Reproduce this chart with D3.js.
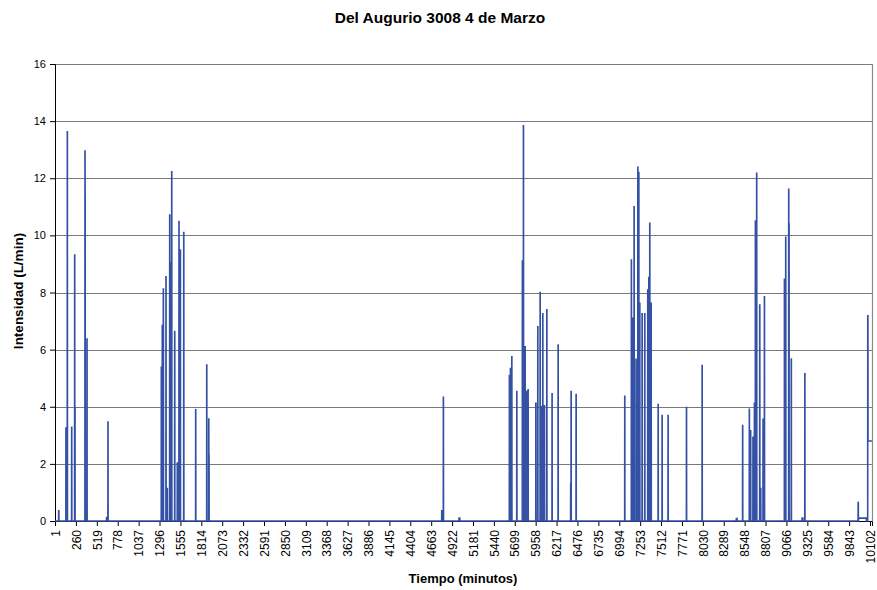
<!DOCTYPE html>
<html>
<head>
<meta charset="utf-8">
<script src="https://cdn.jsdelivr.net/npm/d3@7"></script>
<style>
  html, body { margin: 0; padding: 0; background: #fff; }
  svg { display: block; font-family: "Liberation Sans", Arial, sans-serif; }
</style>
</head>
<body>
<svg id="chart" width="877" height="590"></svg>
<script>
// Minute-by-minute flow record; minutes not listed in the events read 0 L/min.
const totalMinutes = 10126;

// Flow events: first minute, intensity (L/min), duration (minutes)
const eventMinute = [
  46, 136, 153, 207, 244, 248, 372, 374, 397, 640, 657,
  1318, 1330, 1343, 1376, 1392, 1422, 1440, 1447, 1484, 1516, 1537, 1554, 1596,
  1744, 1881, 1906, 1909,
  4794, 4814, 5008,
  5632, 5645, 5662, 5724, 5793, 5806, 5827, 5832, 5848, 5864,
  5960, 5984, 6013, 6025, 6046, 6066, 6096, 6161, 6236, 6392, 6397, 6459,
  7062, 7144, 7157, 7178, 7202, 7224, 7236, 7248, 7277, 7310, 7347, 7360, 7372, 7389,
  7476, 7525, 7599, 7827, 8021,
  8445, 8523, 8606, 8622, 8651, 8669, 8681, 8697, 8735, 8747, 8776, 8793,
  9041, 9057, 9094, 9098, 9126, 9260, 9294,
  9955, 9960, 10074, 10077
];
const eventValue = [
  0.36, 3.25, 13.63, 3.28, 9.31, 3.96, 12.95, 11.3, 6.37, 0.12, 3.46,
  5.38, 6.84, 8.12, 8.55, 1.14, 10.71, 9.03, 12.23, 6.63, 2.03, 10.48, 9.49, 10.1,
  3.89, 5.46, 3.57, 2.3,
  0.36, 4.33, 0.1,
  5.09, 5.34, 5.75, 4.53, 9.1, 13.84, 6.1, 2.87, 4.53, 4.59,
  4.12, 6.8, 8.0, 4.0, 7.25, 4.03, 7.39, 4.45, 6.16, 1.3, 4.53, 4.43,
  4.37, 9.14, 7.1, 11.0, 5.66, 12.38, 12.2, 7.62, 7.25, 7.25, 8.09, 8.52, 10.42, 7.62,
  4.08, 3.69, 3.69, 3.97, 5.44,
  0.09, 3.34, 3.91, 3.16, 2.93, 4.12, 10.5, 12.17, 7.56, 1.14, 3.56, 7.85,
  8.46, 9.93, 11.61, 10.4, 5.67, 0.1, 5.15,
  0.65, 0.1, 7.18, 2.8
];
const eventLength = [
  3, 2, 2, 2, 2, 2, 2, 2, 2, 15, 2,
  2, 2, 2, 2, 2, 2, 2, 2, 2, 2, 2, 2, 2,
  2, 2, 2, 2,
  3, 2, 10,
  2, 2, 2, 2, 2, 2, 2, 2, 2, 2,
  2, 2, 2, 2, 2, 2, 2, 2, 2, 4, 2, 2,
  2, 2, 2, 2, 2, 2, 2, 2, 2, 2, 2, 2, 2, 2,
  2, 2, 2, 2, 2,
  10, 2, 2, 2, 2, 2, 2, 2, 2, 2, 2, 2,
  2, 2, 2, 2, 2, 10, 2,
  3, 97, 3, 50
];

const yTicks = [0, 2, 4, 6, 8, 10, 12, 14, 16];
const xTickLabels = [
  "1", "260", "519", "778", "1037", "1296", "1555", "1814", "2073", "2332",
  "2591", "2850", "3109", "3368", "3627", "3886", "4145", "4404", "4663", "4922",
  "5181", "5440", "5699", "5958", "6217", "6476", "6735", "6994", "7253", "7512",
  "7771", "8030", "8289", "8548", "8807", "9066", "9325", "9584", "9843", "10102"
];

// Expand the events into one reading per minute
const readings = new Array(totalMinutes).fill(0);
eventMinute.forEach((m, i) => {
  for (let k = 0; k < eventLength[i]; k++) {
    const idx = m - 1 + k;
    if (idx >= 0 && idx < totalMinutes) readings[idx] = eventValue[i];
  }
});
const series = readings.map((v, i) => ({ minute: i + 1, value: v }));

const svg = d3.select("#chart");
const plot = { left: 55, right: 872, top: 64, bottom: 521 };

const x = d3.scaleLinear().domain([0.5, totalMinutes + 0.5]).range([plot.left, plot.right]);
const y = d3.scaleLinear().domain([0, 16]).range([plot.bottom, plot.top]);

svg.append("defs").append("clipPath").attr("id", "plot-clip")
  .append("rect")
  .attr("x", plot.left).attr("y", plot.top - 2)
  .attr("width", plot.right - plot.left).attr("height", plot.bottom - plot.top + 4);

// Horizontal gridlines
svg.append("g")
  .selectAll("line")
  .data(yTicks.filter(t => t > 0))
  .join("line")
  .attr("x1", plot.left).attr("x2", plot.right)
  .attr("y1", d => Math.round(y(d)) + 0.5).attr("y2", d => Math.round(y(d)) + 0.5)
  .attr("stroke", "#7a7a7a").attr("stroke-width", 1.2);

// Right edge of the plot area
svg.append("line")
  .attr("x1", plot.right + 0.5).attr("x2", plot.right + 0.5)
  .attr("y1", plot.top).attr("y2", plot.bottom)
  .attr("stroke", "#8c8c8c").attr("stroke-width", 1.2);

// Y axis
const yAxis = svg.append("g")
  .attr("transform", `translate(${plot.left},0)`)
  .call(d3.axisLeft(y).tickValues(yTicks).tickSize(5).tickPadding(4).tickFormat(d3.format("d")));
yAxis.select(".domain").attr("stroke", "#000");
yAxis.selectAll(".tick line").attr("stroke", "#000");
yAxis.selectAll("text").attr("font-size", 11).attr("fill", "#000")
  .attr("font-family", "Liberation Sans, Arial, sans-serif");

// X axis with rotated category labels
const xAxis = svg.append("g")
  .attr("transform", `translate(0,${plot.bottom})`)
  .call(d3.axisBottom(x).tickValues(xTickLabels.map(Number)).tickSize(5).tickFormat((d, i) => xTickLabels[i]));
xAxis.select(".domain").attr("stroke", "#000");
xAxis.selectAll(".tick line").attr("stroke", "#000");
xAxis.selectAll("text")
  .attr("font-size", 12).attr("fill", "#000")
  .attr("font-family", "Liberation Sans, Arial, sans-serif")
  .attr("text-anchor", "end")
  .attr("transform", "rotate(-90)")
  .attr("x", -9).attr("y", 0).attr("dy", "0.35em");

// Flow line
const line = d3.line().x(d => x(d.minute)).y(d => y(d.value));
svg.append("path")
  .datum(series)
  .attr("clip-path", "url(#plot-clip)")
  .attr("d", line)
  .attr("fill", "none")
  .attr("stroke", "#3451a6")
  .attr("stroke-width", 1.6)
  .attr("stroke-linejoin", "miter");

// Titles
svg.append("text")
  .attr("x", 440).attr("y", 23)
  .attr("text-anchor", "middle")
  .attr("font-size", 15.5).attr("font-weight", "bold")
  .text("Del Augurio 3008 4 de Marzo");

svg.append("text")
  .attr("x", 463).attr("y", 583)
  .attr("text-anchor", "middle")
  .attr("font-size", 13).attr("font-weight", "bold")
  .text("Tiempo (minutos)");

svg.append("text")
  .attr("transform", "translate(22.5,291) rotate(-90)")
  .attr("text-anchor", "middle")
  .attr("font-size", 13.5).attr("font-weight", "bold")
  .text("Intensidad (L/min)");
</script>
</body>
</html>
